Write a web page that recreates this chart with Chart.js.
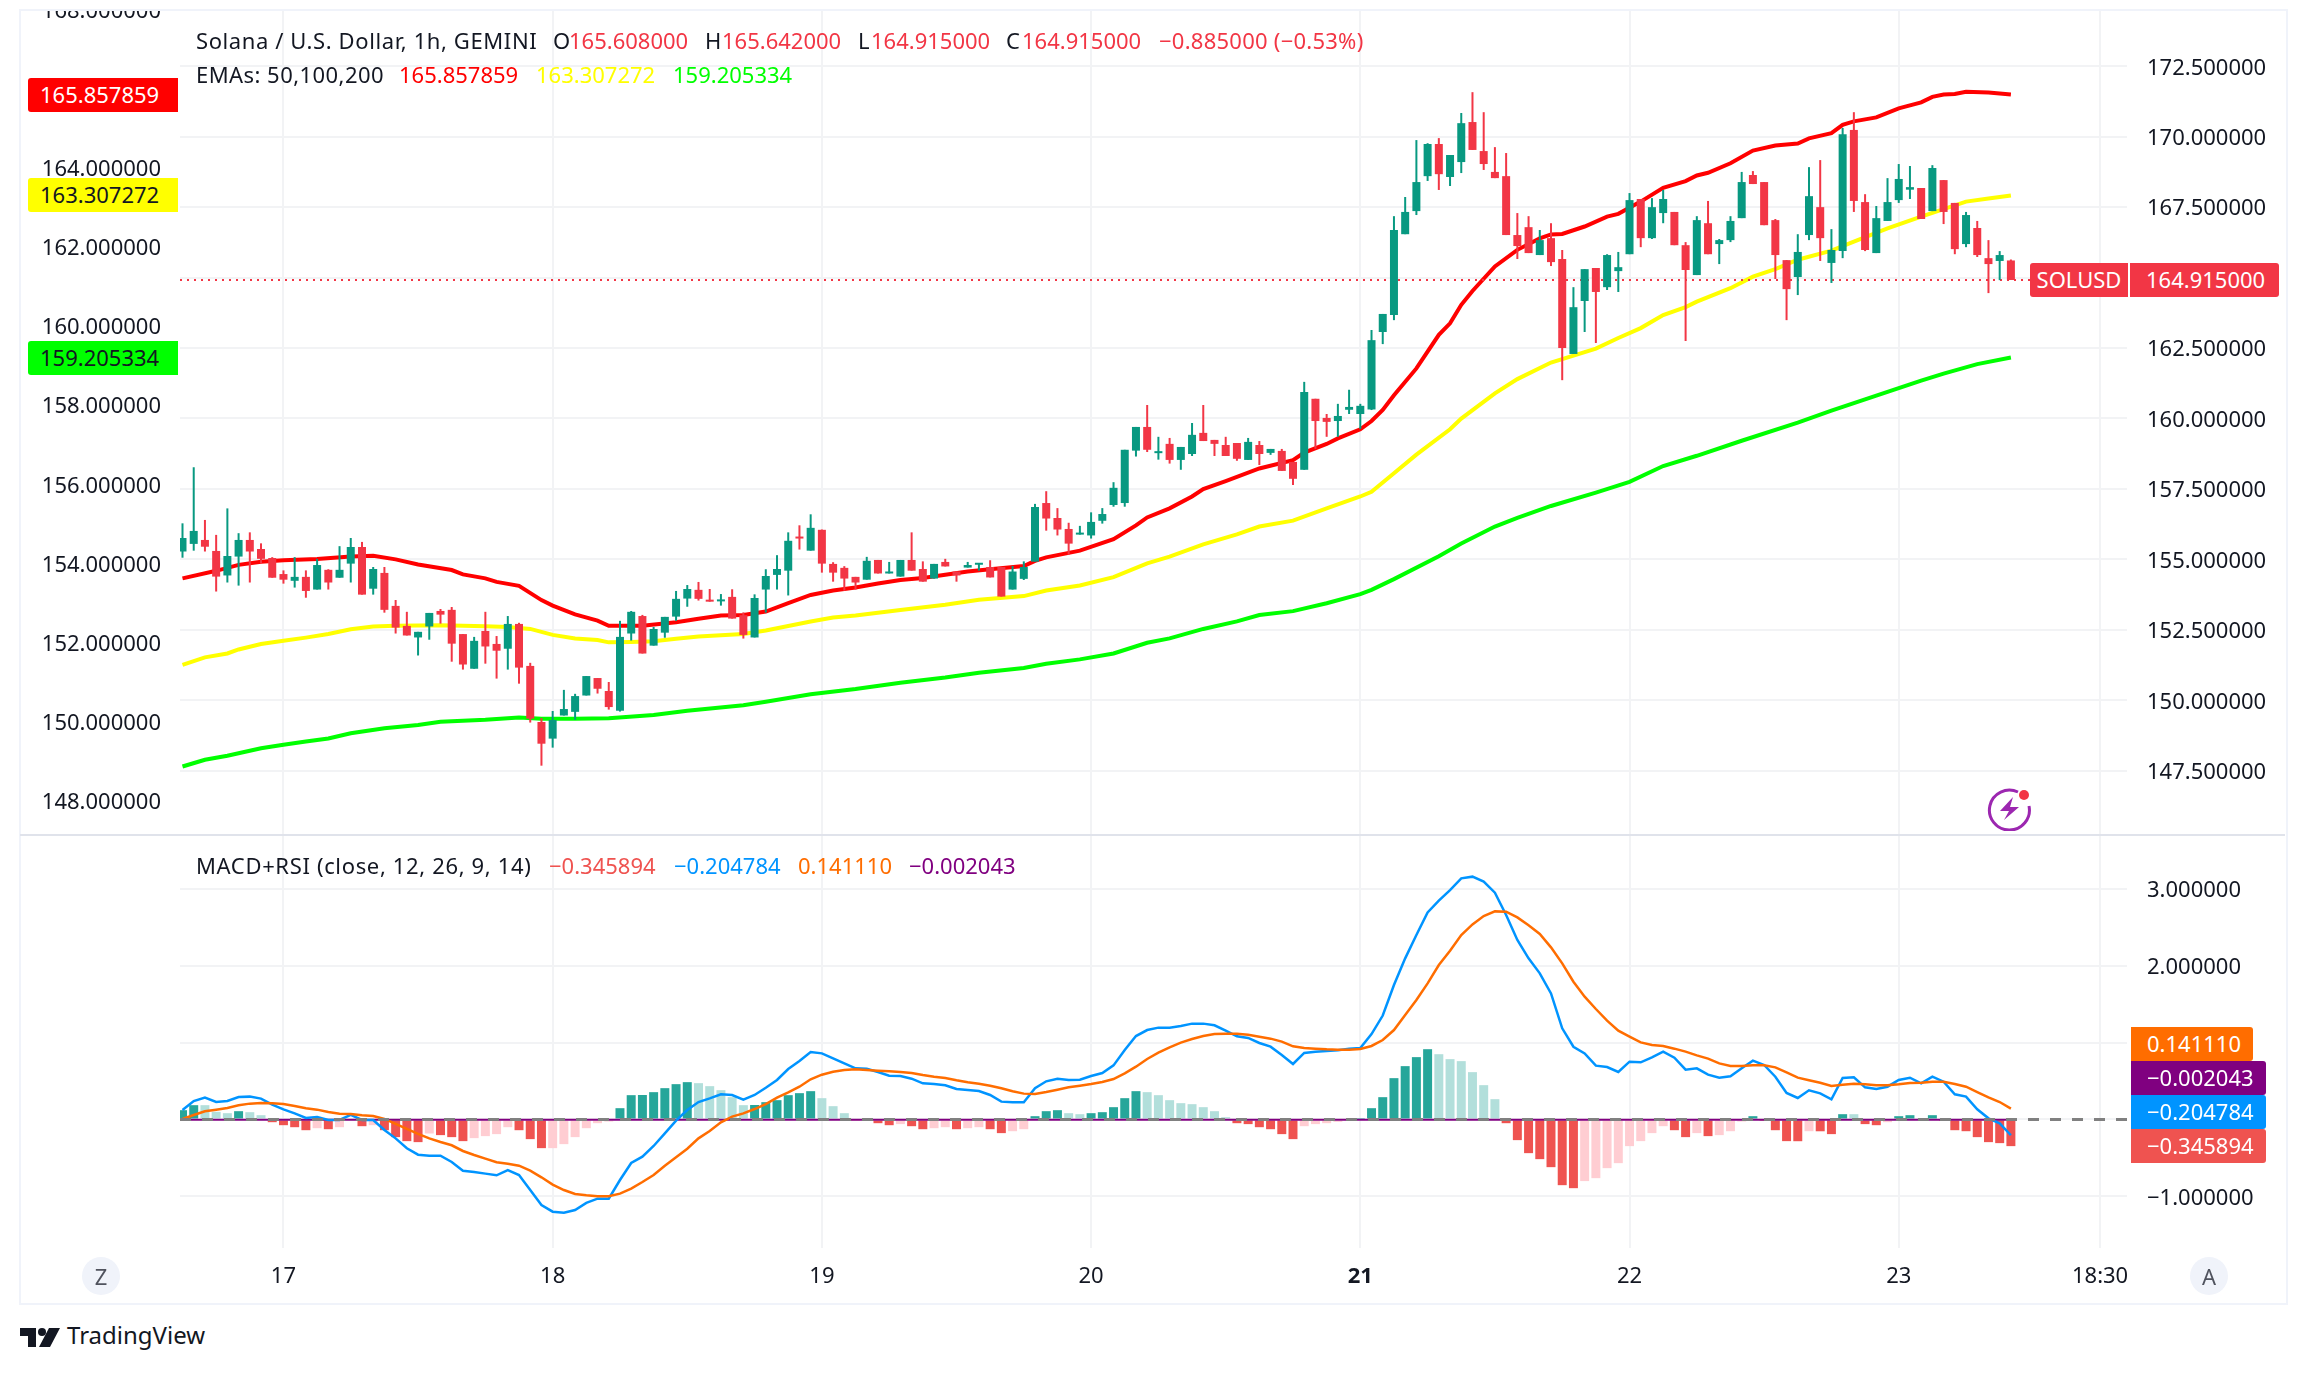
<!DOCTYPE html>
<html>
<head>
<meta charset="utf-8">
<title>SOLUSD</title>
<script src="https://cdn.jsdelivr.net/npm/chart.js@4"></script>
<style>
    html, body { margin: 0; background: #fff; }
    body { width: 2308px; height: 1374px; position: relative; overflow: hidden; font-family: "Noto Sans", sans-serif; font-size: 22px; color: #131722; }
    canvas { position: absolute; left: 20px; }
    #priceChart { top: 10px; }
    #macdChart { top: 836px; }
    .frame { position: absolute; left: 19px; top: 9px; width: 2265px; height: 1292px; border: 2px solid #f0f3fa; }
    .divider { position: absolute; left: 20px; top: 834px; width: 2265px; height: 2px; background: #e0e3eb; }
    .txt { position: absolute; white-space: nowrap; line-height: 30px; height: 30px; }
    .tag { position: absolute; white-space: nowrap; height: 34px; line-height: 32px; box-sizing: border-box; }
    .tag.left { left: 28px; width: 150px; padding-left: 12px; border-radius: 3px 0 0 3px; }
    .tag.right { left: 2131px; padding: 0 12px 0 16px; border-radius: 0 3px 3px 0; }
    .tag.symbol { padding: 0; text-align: center; border-radius: 3px 0 0 3px; }
    .circle { position: absolute; top: 1257px; width: 38px; height: 38px; border-radius: 19px; background: #f0f3fa; color: #50535e; text-align: center; line-height: 38px; }
</style>
</head>
<body>
<canvas id="priceChart" width="2268" height="825"></canvas>
<canvas id="macdChart" width="2268" height="468"></canvas>
<div class="frame"></div>
<div class="divider"></div>

<div class="txt" style="left:196px;top:25px;letter-spacing:.6px">Solana / U.S. Dollar, 1h, GEMINI</div>
<div class="txt" style="left:553px;top:25px">O</div>
<div class="txt" style="left:569px;top:25px;color:#f23645">165.608000</div>
<div class="txt" style="left:705px;top:25px">H</div>
<div class="txt" style="left:722px;top:25px;color:#f23645">165.642000</div>
<div class="txt" style="left:858px;top:25px">L</div>
<div class="txt" style="left:871px;top:25px;color:#f23645">164.915000</div>
<div class="txt" style="left:1006px;top:25px">C</div>
<div class="txt" style="left:1022px;top:25px;color:#f23645">164.915000</div>
<div class="txt" style="left:1159px;top:25px;color:#f23645;letter-spacing:.25px">−0.885000 (−0.53%)</div>
<div class="txt" style="left:196px;top:59px;letter-spacing:.45px">EMAs: 50,100,200</div>
<div class="txt" style="left:399px;top:59px;color:#ff0000">165.857859</div>
<div class="txt" style="left:536px;top:59px;color:#ffff00">163.307272</div>
<div class="txt" style="left:673px;top:59px;color:#00ff00">159.205334</div>

<div class="txt" style="left:196px;top:850px;letter-spacing:.65px">MACD+RSI (close, 12, 26, 9, 14)</div>
<div class="txt" style="left:549px;top:850px;color:#ef5350">−0.345894</div>
<div class="txt" style="left:674px;top:850px;color:#0094ff">−0.204784</div>
<div class="txt" style="left:798px;top:850px;color:#ff6d00">0.141110</div>
<div class="txt" style="left:909px;top:850px;color:#800080">−0.002043</div>

<div class="tag right" style="top:1027px;background:#ff6d00;color:#fff">0.141110</div>
<div class="tag right" style="top:1061px;background:#800080;color:#fff">−0.002043</div>
<div class="tag right" style="top:1095px;background:#0094ff;color:#fff">−0.204784</div>
<div class="tag right" style="top:1129px;background:#ef5350;color:#fff">−0.345894</div>

<div class="circle" style="left:82px">Z</div>
<div class="circle" style="left:2190px">A</div>

<svg style="position:absolute;left:1986px;top:785px" width="48" height="46" viewBox="0 0 48 46">
    <path d="M32 7 A20 20 0 1 0 43 21" fill="none" stroke="#9c27b0" stroke-width="3"/>
    <path d="M27 12 L14 26 H23 L18 35 L33 22 H24 Z" fill="#9c27b0"/>
    <circle cx="38" cy="10" r="5" fill="#f23645"/>
</svg>

<svg style="position:absolute;left:20px;top:1328px" width="40" height="20" viewBox="0 0 40 20">
    <path d="M0 0 H16 V19 H8 V8 H0 Z M29 0 H40 L30 19 H19 Z" fill="#131722"/>
    <circle cx="22" cy="4" r="4" fill="#131722"/>
</svg>
<div class="txt" style="left:67px;top:1320px;font-size:24px">TradingView</div>

<script>
// Candles, one row per hour from the 16th 15:00: open, high, low, close
const candles = [
    [155.28,156.28,155.06,155.76],[155.55,158.27,155.31,156.01],[155.69,156.40,155.28,155.45],[155.30,155.87,153.86,154.39],
    [154.43,156.81,154.18,155.12],[155.10,155.93,154.07,155.69],[155.69,155.96,154.18,155.28],[155.37,155.57,154.86,155.02],
    [155.05,155.08,154.35,154.35],[154.48,154.61,154.14,154.28],[154.24,155.08,154.00,154.38],[154.38,154.61,153.64,153.88],
    [153.93,155.02,153.93,154.80],[154.63,154.65,153.93,154.18],[154.35,155.47,154.35,154.63],[154.85,155.76,154.18,155.44],
    [155.44,155.62,153.75,153.75],[153.96,154.73,153.75,154.66],[154.52,154.73,153.11,153.21],[153.35,153.56,152.37,152.58],
    [152.64,153.14,152.30,152.30],[152.23,152.43,151.59,152.43],[152.62,153.10,152.15,153.10],[153.17,153.24,152.72,153.04],
    [153.21,153.31,151.37,152.01],[152.35,152.35,151.09,151.27],[151.12,152.25,151.12,152.11],[152.46,153.14,151.30,151.91],
    [152.00,152.28,150.77,151.76],[151.83,152.99,151.09,152.71],[152.71,152.75,150.59,151.16],[151.22,151.33,149.21,149.35],
    [149.23,149.37,147.68,148.46],[148.64,149.62,148.32,149.30],[149.46,150.37,149.46,149.69],[149.59,150.23,149.31,150.15],
    [150.17,150.86,150.17,150.86],[150.79,150.79,150.24,150.41],[150.33,150.65,149.67,149.76],[149.63,152.82,149.60,152.25],
    [152.37,153.17,152.12,153.14],[152.99,153.03,151.66,151.66],[151.94,152.60,151.94,152.53],[152.40,152.96,152.22,152.96],
    [152.97,153.88,152.82,153.60],[153.61,154.09,153.32,153.95],[153.92,154.20,153.54,153.60],[153.56,153.95,153.50,153.50],
    [153.51,153.77,153.36,153.56],[153.67,153.94,152.90,152.90],[153.02,153.12,152.19,152.32],[152.23,153.76,152.23,153.63],
    [153.93,154.65,153.11,154.41],[154.45,155.15,153.93,154.66],[154.60,155.96,153.72,155.66],[155.80,156.21,155.35,155.74],
    [155.31,156.60,155.31,156.12],[156.05,156.06,154.53,154.85],[154.84,154.90,154.21,154.53],[154.70,154.76,153.89,154.32],
    [154.38,154.38,153.93,154.18],[154.28,155.09,154.28,154.95],[154.98,154.98,154.50,154.50],[154.50,154.91,154.50,154.56],
    [154.39,154.98,154.39,154.98],[154.98,155.96,154.60,154.60],[154.66,154.93,154.21,154.21],[154.32,154.84,154.32,154.84],
    [154.91,155.02,154.75,154.75],[154.57,154.57,154.21,154.43],[154.71,154.91,154.71,154.80],[154.81,154.86,154.60,154.86],
    [154.73,154.97,154.36,154.36],[154.73,154.73,153.68,153.68],[153.93,154.77,153.93,154.57],[154.31,154.93,154.27,154.73],
    [154.92,156.97,154.92,156.86],[157.00,157.42,156.02,156.45],[156.47,156.82,155.85,156.06],[156.08,156.30,155.17,155.56],
    [155.88,156.19,155.88,155.94],[155.85,156.67,155.74,156.33],[156.37,156.82,156.27,156.61],[156.93,157.74,156.87,157.54],
    [157.00,158.89,156.87,158.89],[158.86,159.70,158.65,159.70],[159.70,160.48,158.81,158.89],[158.77,159.35,158.54,158.81],
    [159.10,159.31,158.40,158.53],[158.53,158.99,158.18,158.99],[158.74,159.84,158.67,159.42],[159.49,160.48,159.20,159.20],
    [159.24,159.24,158.67,159.10],[159.06,159.35,158.67,158.67],[159.13,159.13,158.50,158.57],[158.53,159.31,158.53,159.17],
    [159.06,159.20,158.35,158.74],[158.78,158.92,158.71,158.92],[158.85,158.92,158.14,158.14],[158.46,158.46,157.64,157.86],
    [158.18,161.30,158.18,160.94],[160.70,160.70,158.92,159.91],[160.02,160.16,159.35,159.88],[159.91,160.52,159.35,160.09],
    [160.31,161.02,160.16,160.41],[160.16,160.52,159.63,160.45],[160.32,163.14,160.30,162.78],[163.07,163.71,162.64,163.71],
    [163.67,167.18,163.49,166.69],[166.54,167.86,166.54,167.33],[167.36,169.88,167.22,168.39],[168.60,169.77,168.43,169.74],
    [169.74,169.95,168.11,168.67],[168.57,169.35,168.25,169.35],[169.10,170.84,168.71,170.48],[170.52,171.58,169.53,169.53],
    [169.49,170.87,168.82,169.03],[168.75,169.63,168.53,168.53],[168.60,169.42,166.51,166.51],[166.51,167.29,165.66,166.12],
    [166.79,167.18,165.87,165.87],[165.80,166.69,165.80,166.33],[166.40,166.93,165.41,165.55],[165.66,165.98,161.36,162.50],
    [162.29,164.66,162.29,163.95],[164.17,165.30,163.07,165.30],[165.34,165.34,162.68,164.49],[164.66,165.83,164.56,165.80],
    [165.23,165.91,164.49,165.37],[165.83,168.00,165.83,167.75],[167.79,167.79,166.08,166.40],[166.40,167.82,166.37,167.50],
    [167.29,168.11,166.93,167.79],[167.33,167.33,166.15,166.15],[166.15,166.26,162.75,165.27],[165.09,167.18,165.09,167.04],
    [166.93,167.72,165.83,165.83],[166.19,166.37,165.48,166.33],[166.33,167.18,166.26,167.01],[167.11,168.75,167.11,168.39],
    [168.64,168.78,168.32,168.32],[168.39,168.39,166.86,166.86],[167.04,167.08,164.95,165.80],[165.62,165.62,163.49,164.59],
    [165.02,166.54,164.38,165.91],[166.51,168.92,166.33,167.89],[167.50,169.17,165.59,166.40],[165.52,166.72,164.81,165.98],
    [165.94,170.31,165.69,170.09],[170.24,170.87,167.33,167.72],[167.68,167.96,165.94,165.98],[165.87,167.54,165.87,167.11],
    [167.01,168.53,167.01,167.68],[167.75,169.03,167.65,168.50],[168.12,168.96,167.79,168.21],[168.18,168.18,167.08,167.08],
    [167.36,168.99,167.36,168.89],[168.46,168.46,166.90,167.33],[167.65,167.65,165.83,166.01],[166.19,167.33,166.08,167.22],
    [166.76,167.01,165.73,165.80],[165.69,166.33,164.45,165.48],[165.59,165.94,164.91,165.80],[165.608,165.642,164.915,164.915]
];

// EMA lines on the left scale: [bar, value]
const ema50 = [
    [0,153.62],[3,153.81],[5,153.96],[7,154.04],[9,154.08],[12,154.11],[15,154.17],[17,154.19],[19,154.10],[21,153.97],
    [24,153.83],[25,153.72],[27,153.62],[28,153.53],[30,153.43],[32,153.07],[33,152.93],[35,152.71],[37,152.55],[38,152.42],
    [41,152.42],[44,152.51],[46,152.60],[48,152.68],[50,152.69],[52,152.78],[54,152.99],[56,153.20],[58,153.31],[60,153.39],
    [62,153.49],[64,153.58],[66,153.63],[68,153.71],[70,153.79],[72,153.85],[75,153.93],[76,154.06],[77,154.15],[80,154.32],
    [83,154.61],[85,154.96],[86,155.16],[88,155.39],[90,155.69],[91,155.88],[93,156.08],[96,156.40],[99,156.61],[100,156.80],
    [102,157.02],[103,157.16],[105,157.39],[106,157.60],[107,157.88],[108,158.25],[110,158.93],[112,159.78],[113,160.07],[114,160.54],
    [115,160.89],[117,161.51],[119,161.93],[121,162.22],[122,162.32],[123,162.33],[125,162.52],[127,162.77],[128,162.84],[130,163.15],
    [132,163.50],[134,163.67],[135,163.81],[136,163.88],[138,164.12],[140,164.44],[142,164.57],[144,164.62],[145,164.75],[147,164.88],
    [148,165.09],[149,165.18],[151,165.28],[153,165.51],[155,165.66],[156,165.80],[157,165.86],[158,165.87],[159,165.93],[161,165.91],
    [163,165.858]
];
const ema100 = [
    [0,151.43],[2,151.62],[4,151.72],[5,151.82],[7,151.96],[9,152.04],[11,152.12],[13,152.21],[15,152.33],[17,152.40],
    [19,152.42],[23,152.43],[27,152.41],[29,152.39],[31,152.34],[33,152.19],[35,152.10],[37,152.06],[38,152.00],[40,152.01],
    [42,152.03],[44,152.09],[46,152.15],[50,152.21],[52,152.30],[56,152.53],[58,152.63],[60,152.68],[64,152.82],[68,152.95],
    [71,153.08],[75,153.17],[77,153.31],[80,153.44],[83,153.65],[86,154.00],[88,154.17],[91,154.48],[94,154.73],[96,154.93],
    [99,155.08],[102,155.39],[105,155.69],[106,155.81],[108,156.28],[110,156.75],[113,157.39],[114,157.66],[117,158.30],[119,158.66],
    [122,159.08],[126,159.43],[128,159.70],[130,159.95],[132,160.28],[134,160.48],[135,160.62],[138,160.96],[140,161.25],[142,161.44],
    [144,161.68],[147,161.91],[149,162.14],[152,162.47],[155,162.77],[157,162.96],[159,163.15],[161,163.23],[163,163.307]
];
const ema200 = [
    [0,148.86],[2,149.03],[4,149.13],[7,149.32],[9,149.41],[11,149.49],[13,149.57],[15,149.70],[18,149.83],[21,149.91],
    [23,149.99],[27,150.04],[30,150.10],[32,150.07],[35,150.07],[38,150.08],[42,150.16],[45,150.27],[50,150.41],[52,150.50],
    [56,150.69],[60,150.82],[64,150.98],[68,151.11],[71,151.23],[75,151.35],[77,151.46],[80,151.57],[83,151.72],[86,151.99],
    [88,152.10],[91,152.34],[94,152.53],[96,152.69],[99,152.79],[102,152.99],[105,153.22],[106,153.33],[108,153.60],[112,154.18],
    [114,154.50],[117,154.93],[119,155.15],[122,155.45],[126,155.79],[129,156.06],[132,156.46],[135,156.72],[139,157.10],[144,157.56],
    [147,157.86],[151,158.24],[155,158.62],[157,158.80],[160,159.04],[163,159.205]
];

// MACD pane, one value per bar
const macdHist = [
    .121,.186,.186,.10,.082,.108,.095,.056,-.035,-.074,
    -.10,-.139,-.113,-.126,-.10,-.01,-.087,-.074,-.139,-.229,
    -.281,-.294,-.182,-.203,-.229,-.281,-.242,-.216,-.19,-.10,
    -.139,-.255,-.372,-.372,-.32,-.229,-.113,-.048,-.026,.147,
    .316,.318,.355,.407,.459,.485,.472,.433,.381,.29,
    .186,.188,.225,.251,.316,.342,.368,.277,.173,.082,
    -.01,-.008,-.048,-.074,-.06,-.087,-.126,-.113,-.10,-.126,
    -.113,-.10,-.126,-.177,-.152,-.126,.043,.108,.121,.082,
    .069,.082,.095,.16,.277,.368,.355,.316,.251,.212,
    .199,.16,.108,.03,-.048,-.06,-.10,-.126,-.19,-.255,
    -.087,-.06,-.048,-.03,-.005,.005,.147,.29,.537,.693,
    .81,.913,.848,.784,.758,.615,.446,.264,-.048,-.268,
    -.437,-.515,-.619,-.853,-.892,-.80,-.762,-.632,-.567,-.346,
    -.281,-.177,-.087,-.139,-.229,-.177,-.216,-.203,-.152,-.026,
    .043,-.005,-.139,-.281,-.282,-.152,-.153,-.19,.069,.069,
    -.06,-.074,-.035,.043,.056,.01,.056,-.005,-.139,-.152,
    -.229,-.294,-.307,-.345894
];
const macdLine = [
    .123,.240,.284,.227,.240,.292,.297,.271,.193,.132,
    .080,.020,.033,-.006,-.006,.059,-.006,-.006,-.136,-.245,
    -.374,-.457,-.470,-.470,-.552,-.665,-.682,-.703,-.725,-.656,
    -.721,-.916,-1.110,-1.197,-1.210,-1.175,-1.084,-1.028,-1.028,-.786,
    -.565,-.483,-.344,-.180,-.015,.123,.227,.275,.327,.318,
    .258,.318,.413,.513,.656,.760,.877,.859,.794,.729,
    .665,.660,.617,.569,.565,.530,.470,.461,.444,.396,
    .383,.370,.318,.232,.223,.223,.405,.496,.530,.513,
    .517,.565,.604,.703,.903,1.084,1.162,1.193,1.193,1.214,
    1.245,1.245,1.223,1.154,1.080,1.059,.994,.946,.838,.721,
    .864,.881,.890,.898,.920,.929,1.110,1.350,1.747,2.093,
    2.396,2.690,2.842,2.980,3.132,3.154,3.089,2.946,2.656,2.331,
    2.093,1.898,1.638,1.184,.945,.859,.699,.682,.617,.751,
    .743,.807,.881,.803,.647,.665,.582,.543,.561,.665,
    .764,.708,.556,.344,.279,.379,.340,.262,.539,.548,
    .418,.396,.426,.513,.543,.470,.556,.491,.327,.297,
    .132,.015,-.050,-.204784
];
const signalLine = [
    .007,.059,.106,.128,.149,.184,.206,.214,.210,.201,
    .175,.145,.128,.097,.076,.071,.054,.045,.007,-.058,
    -.123,-.188,-.245,-.292,-.335,-.409,-.461,-.509,-.556,-.574,
    -.600,-.665,-.751,-.846,-.916,-.968,-.985,-.998,-.998,-.963,
    -.898,-.812,-.721,-.600,-.491,-.379,-.245,-.149,-.037,.037,
    .080,.136,.201,.284,.353,.426,.522,.582,.621,.643,
    .652,.643,.634,.626,.617,.604,.578,.556,.539,.509,
    .483,.465,.439,.405,.366,.336,.331,.357,.387,.418,
    .439,.461,.487,.526,.600,.686,.786,.868,.937,.998,
    1.045,1.084,1.110,1.115,1.115,1.102,1.076,1.050,1.011,.950,
    .929,.920,.911,.907,.907,.916,.955,1.032,1.162,1.357,
    1.552,1.768,2.006,2.192,2.396,2.534,2.643,2.703,2.699,2.625,
    2.522,2.409,2.236,2.028,1.790,1.595,1.435,1.283,1.154,1.076,
    1.002,.967,.955,.920,.881,.833,.790,.729,.695,.695,
    .703,.703,.677,.613,.543,.509,.478,.435,.452,.465,
    .457,.444,.444,.457,.474,.478,.491,.491,.461,.426,
    .357,.288,.227,.14111
];

const upColor = '#089981';
const downColor = '#f23645';
const gridColor = '#f2f3f5';
const fontFamily = '"Noto Sans", sans-serif';
const tickFont = { family: fontFamily, size: 22 };

// Time axis: bar index of each label
const xMin = -0.223;
const xMax = 173.35;
const timeLabels = { 9: '17', 33: '18', 57: '19', 81: '20', 105: '21', 129: '22', 153: '23', 170.95: '18:30' };
const timeTicks = Object.keys(timeLabels).map(Number).sort((a, b) => a - b);

function fixedTicks(values) {
    return function (scale) {
        scale.ticks = values.map(value => ({ value }));
    };
}

function fixedWidth(width) {
    return function (scale) {
        scale.width = width;
        scale.paddingTop = 0;
        scale.paddingBottom = 0;
    };
}

function pairsToPoints(pairs) {
    return pairs.map(p => ({ x: p[0], y: p[1] }));
}

function seriesToPoints(values) {
    return values.map((y, x) => ({ x, y }));
}

function lineDataset(data, color, width, yAxisID, order, dash) {
    return {
        type: 'line',
        data,
        borderColor: color,
        borderWidth: width,
        borderDash: dash || [],
        pointRadius: 0,
        tension: 0,
        yAxisID,
        order
    };
}

function xAxis(showLabels, height) {
    return {
        type: 'linear',
        min: xMin,
        max: xMax,
        offset: false,
        afterBuildTicks: fixedTicks(timeTicks),
        afterFit: function (scale) {
            scale.height = height;
            scale.paddingLeft = 0;
            scale.paddingRight = 0;
        },
        border: { display: false },
        grid: { color: gridColor, lineWidth: 2, drawTicks: false, offset: false },
        ticks: {
            display: showLabels,
            autoSkip: false,
            maxRotation: 0,
            padding: 16,
            color: '#131722',
            font: ctx => ({ family: fontFamily, size: 22, weight: ctx.tick && ctx.tick.value === 105 ? 'bold' : 'normal' }),
            callback: value => timeLabels[value]
        }
    };
}

// Price pane
const closeLine = candles[candles.length - 1][3];
const priceChart = new Chart(document.getElementById('priceChart'), {
    type: 'bar',
    data: {
        datasets: [
            {
                data: candles.map((c, i) => ({ x: i, y: [c[0], c[3]] })),
                backgroundColor: candles.map(c => c[3] >= c[0] ? upColor : downColor),
                grouped: false,
                barPercentage: 1,
                maxBarThickness: 8,
                minBarLength: 2,
                yAxisID: 'yRight',
                order: 1
            },
            {
                data: candles.map((c, i) => ({ x: i, y: [c[2], c[1]] })),
                backgroundColor: candles.map(c => c[3] >= c[0] ? upColor : downColor),
                grouped: false,
                barPercentage: 1,
                maxBarThickness: 2,
                yAxisID: 'yRight',
                order: 2
            },
            lineDataset([{ x: xMin, y: closeLine }, { x: xMax, y: closeLine }], downColor, 2, 'yRight', 3, [2, 5]),
            lineDataset(pairsToPoints(ema50), '#ff0000', 4, 'yLeft', 4),
            lineDataset(pairsToPoints(ema100), '#ffff00', 4, 'yLeft', 5),
            lineDataset(pairsToPoints(ema200), '#00ff00', 4, 'yLeft', 6)
        ]
    },
    options: {
        responsive: false,
        animation: false,
        devicePixelRatio: 1,
        events: [],
        layout: { padding: 0 },
        plugins: { legend: { display: false }, tooltip: { enabled: false } },
        scales: {
            x: xAxis(false, 0),
            yLeft: {
                position: 'left',
                min: 147.127,
                max: 167.997,
                afterBuildTicks: fixedTicks([148, 150, 152, 154, 156, 158, 160, 162, 164, 166, 168]),
                afterFit: fixedWidth(160),
                border: { display: false },
                grid: { display: false },
                ticks: { padding: 11, labelOffset: 2, color: '#131722', font: tickFont, autoSkip: false, callback: v => v.toFixed(6) }
            },
            yRight: {
                position: 'right',
                min: 145.22,
                max: 174.496,
                afterBuildTicks: fixedTicks([147.5, 150, 152.5, 155, 157.5, 160, 162.5, 165, 167.5, 170, 172.5]),
                afterFit: fixedWidth(161),
                border: { display: false },
                grid: { color: gridColor, lineWidth: 2, drawTicks: false },
                ticks: { padding: 20, labelOffset: 2, color: '#131722', font: tickFont, autoSkip: false, callback: v => v.toFixed(6) }
            }
        }
    }
});

// MACD pane
const histColors = macdHist.map((v, i) => {
    const rising = i === 0 || v > macdHist[i - 1];
    if (v >= 0) return rising ? '#26a69a' : '#b2dfdb';
    return rising || v === macdHist[i - 1] ? '#ffcdd2' : '#ef5350';
});

new Chart(document.getElementById('macdChart'), {
    type: 'bar',
    data: {
        datasets: [
            lineDataset([{ x: xMin, y: 0 }, { x: xMax, y: 0 }], '#808080', 3, 'y', 1, [11, 11]),
            lineDataset(seriesToPoints(signalLine), '#ff6d00', 2.5, 'y', 2),
            lineDataset(seriesToPoints(macdLine), '#0094ff', 2.5, 'y', 3),
            lineDataset([{ x: xMin, y: -0.002043 }, { x: 163, y: -0.002043 }], '#800080', 2, 'y', 4),
            {
                data: seriesToPoints(macdHist),
                backgroundColor: histColors,
                grouped: false,
                barPercentage: 1,
                maxBarThickness: 9,
                yAxisID: 'y',
                order: 5
            }
        ]
    },
    options: {
        responsive: false,
        animation: false,
        devicePixelRatio: 1,
        events: [],
        layout: { padding: { left: 160 } },
        plugins: { legend: { display: false }, tooltip: { enabled: false } },
        scales: {
            x: xAxis(true, 56),
            y: {
                position: 'right',
                min: -1.669,
                max: 3.682,
                afterBuildTicks: fixedTicks([-1, 0, 1, 2, 3]),
                afterFit: fixedWidth(161),
                border: { display: false },
                grid: { color: gridColor, lineWidth: 2, drawTicks: false },
                ticks: {
                    padding: 20,
                    labelOffset: 2,
                    color: '#131722',
                    font: tickFont,
                    autoSkip: false,
                    callback: v => v.toFixed(6).replace('-', '−')
                }
            }
        }
    }
});

// Value tags sit at their own values on the price scales
function addTag(text, style, top) {
    const tag = document.createElement('div');
    tag.className = 'tag ' + style.side;
    tag.textContent = text;
    tag.style.top = (top - 17) + 'px';
    tag.style.background = style.background;
    tag.style.color = style.color;
    if (style.left) tag.style.left = style.left + 'px';
    if (style.width) tag.style.width = style.width + 'px';
    document.body.appendChild(tag);
}

const leftScale = priceChart.scales.yLeft;
const rightScale = priceChart.scales.yRight;
addTag('165.857859', { side: 'left', background: '#ff0000', color: '#fff' }, 10 + leftScale.getPixelForValue(165.857859));
addTag('163.307272', { side: 'left', background: '#ffff00', color: '#131722' }, 10 + leftScale.getPixelForValue(163.307272));
addTag('159.205334', { side: 'left', background: '#00ff00', color: '#131722' }, 10 + leftScale.getPixelForValue(159.205334));
addTag('SOLUSD', { side: 'symbol', background: downColor, color: '#fff', left: 2030, width: 98 }, 10 + rightScale.getPixelForValue(closeLine));
addTag('164.915000', { side: 'right', background: downColor, color: '#fff', left: 2130, width: 149 }, 10 + rightScale.getPixelForValue(closeLine));
</script>
</body>
</html>
